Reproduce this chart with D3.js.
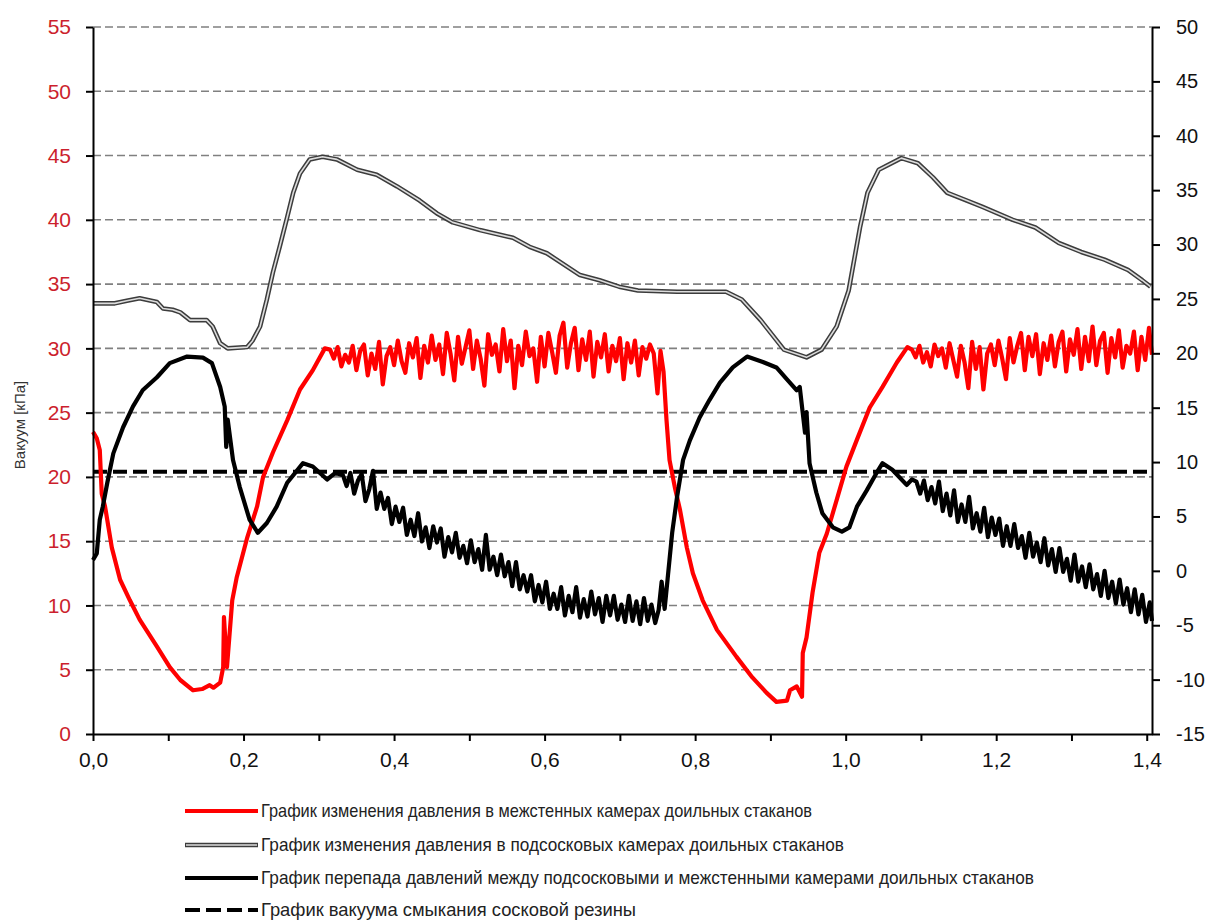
<!DOCTYPE html>
<html><head><meta charset="utf-8">
<script src="https://cdn.jsdelivr.net/npm/d3@7"></script>
<style>html,body{margin:0;padding:0;background:#fff;}svg{display:block;}</style>
</head><body>
<script>
// ---------- DATA ----------
const leftTicks = [0,5,10,15,20,25,30,35,40,45,50,55];
const gridTicks = [5,10,15,20,25,30,35,40,45,50,55];
const rightTicks = [-15,-10,-5,0,5,10,15,20,25,30,35,40,45,50];
const xTicks = [0,0.1,0.2,0.3,0.4,0.5,0.6,0.7,0.8,0.9,1.0,1.1,1.2,1.3,1.4];
const xTickLabels = ["0,0","","0,2","","0,4","","0,6","","0,8","","1,0","","1,2","","1,4"];

// red: pressure in inter-wall chambers (left axis, kPa)
const redSeries = [
 [0,23.5],[0.005,23.0],[0.009,22.1],[0.0116,18.7],[0.016,17.7],[0.025,14.5],[0.036,12.0],[0.049,10.4],[0.062,8.9],
 [0.085,6.8],[0.102,5.2],[0.116,4.2],[0.133,3.4],[0.145,3.5],[0.155,3.8],[0.160,3.6],[0.169,4.0],[0.173,5.2],[0.174,9.1],
 [0.178,5.2],[0.185,10.4],[0.191,12.2],[0.205,15.3],[0.218,17.7],[0.226,20.0],[0.239,21.9],[0.258,24.4],[0.275,26.8],
 [0.292,28.3],[0.308,30.0],
 [0.315,29.9],[0.320,29.2],[0.325,30.1],[0.330,28.6],[0.335,29.5],[0.340,28.9],[0.345,30.2],[0.350,28.3],[0.355,29.8],[0.360,30.3],
 [0.365,27.9],[0.370,29.6],[0.375,28.4],[0.380,30.5],[0.385,27.2],[0.390,29.4],[0.395,30.1],[0.400,28.7],[0.405,30.6],[0.410,29.0],
 [0.415,28.1],[0.420,30.4],[0.425,29.3],[0.430,30.8],[0.435,27.7],[0.440,30.2],[0.445,28.9],[0.450,31.0],[0.455,29.1],[0.460,30.3],
 [0.465,28.0],[0.470,31.2],[0.475,29.6],[0.480,27.5],[0.485,30.9],[0.490,28.8],[0.495,30.1],[0.500,31.4],[0.505,28.4],[0.510,30.6],
 [0.515,29.2],[0.520,27.1],[0.525,31.1],[0.530,29.5],[0.535,30.3],[0.540,28.2],[0.545,31.5],[0.550,29.0],[0.555,30.6],[0.560,26.9],
 [0.565,30.2],[0.570,28.7],[0.575,31.3],[0.580,29.4],[0.585,30.0],[0.590,27.4],[0.595,30.9],[0.600,28.6],[0.605,31.2],[0.610,29.7],
 [0.615,28.1],[0.620,31.0],[0.625,32.0],[0.630,28.5],[0.635,30.4],[0.640,31.6],[0.645,28.3],[0.650,30.7],[0.655,29.1],[0.660,31.3],
 [0.665,27.8],[0.670,30.5],[0.675,29.3],[0.680,31.1],[0.685,28.2],[0.690,30.2],[0.695,29.0],[0.700,30.8],[0.705,27.6],[0.710,30.4],
 [0.715,28.9],[0.720,30.6],[0.725,27.9],[0.730,30.1],[0.735,29.2],[0.740,30.3],[0.745,29.6],
 [0.750,26.5],[0.754,29.8],[0.758,28.2],[0.762,24.4],[0.766,21.3],[0.773,19.2],[0.780,17.4],[0.789,14.5],[0.797,12.5],[0.810,10.4],
 [0.829,8.1],[0.855,6.0],[0.876,4.4],[0.895,3.2],[0.908,2.5],[0.922,2.6],[0.926,3.4],[0.935,3.7],[0.942,2.9],[0.943,6.3],
 [0.948,7.5],[0.956,11.0],[0.965,14.1],[0.975,15.6],[0.988,18.2],[1.001,20.8],[1.015,22.9],[1.032,25.4],[1.049,27.0],
 [1.068,28.9],[1.082,30.1],
 [1.088,29.9],[1.093,29.3],[1.098,30.2],[1.103,28.9],[1.108,29.7],[1.113,28.6],[1.118,30.3],[1.123,29.4],[1.128,30.0],[1.133,28.5],
 [1.138,30.4],[1.143,29.1],[1.148,27.8],[1.153,30.2],[1.158,28.9],[1.163,26.9],[1.168,30.5],[1.173,28.4],[1.178,30.1],[1.183,26.8],
 [1.188,29.6],[1.193,30.3],[1.198,28.7],[1.203,30.6],[1.208,29.2],[1.213,27.6],[1.218,30.8],[1.223,28.9],[1.228,30.2],[1.233,31.2],
 [1.238,28.3],[1.243,30.9],[1.248,29.4],[1.253,31.1],[1.258,28.0],[1.263,30.4],[1.268,29.1],[1.273,31.0],[1.278,28.6],[1.283,30.5],
 [1.288,31.3],[1.293,28.2],[1.298,30.7],[1.303,29.5],[1.308,31.5],[1.313,28.4],[1.318,30.9],[1.323,29.0],[1.328,31.7],[1.333,28.7],
 [1.338,30.6],[1.343,31.2],[1.348,28.1],[1.353,30.8],[1.358,29.3],[1.363,31.4],[1.368,28.5],[1.373,30.2],[1.378,29.6],[1.383,31.3],
 [1.388,28.3],[1.393,30.9],[1.398,29.1],[1.403,31.6],[1.407,29.5]
];

// gray: pressure in sub-teat chambers (left axis, kPa)
const graySeries = [
 [0,33.5],[0.029,33.5],[0.045,33.7],[0.062,33.9],[0.085,33.6],[0.093,33.1],[0.106,33.0],[0.116,32.8],[0.129,32.2],
 [0.151,32.2],[0.159,31.7],[0.169,30.4],[0.179,30.0],[0.205,30.1],[0.212,30.6],[0.222,31.7],[0.231,33.8],[0.239,35.9],
 [0.248,37.9],[0.258,40.2],[0.266,42.1],[0.275,43.6],[0.288,44.7],[0.305,44.9],[0.324,44.7],[0.351,43.9],[0.377,43.5],
 [0.404,42.6],[0.434,41.5],[0.457,40.5],[0.478,39.8],[0.514,39.2],[0.558,38.6],[0.580,37.9],[0.603,37.4],[0.647,35.7],
 [0.673,35.3],[0.699,34.8],[0.724,34.5],[0.776,34.4],[0.821,34.4],[0.841,34.4],[0.862,33.8],[0.887,32.2],[0.918,29.9],
 [0.948,29.3],[0.968,29.9],[0.988,31.7],[1.004,34.5],[1.019,39.4],[1.029,42.1],[1.044,43.9],[1.074,44.8],[1.096,44.4],
 [1.116,43.3],[1.135,42.1],[1.161,41.5],[1.182,41.0],[1.222,40.0],[1.252,39.4],[1.283,38.2],[1.313,37.5],[1.344,36.9],
 [1.375,36.1],[1.394,35.3],[1.405,34.8]
];

// black: pressure difference (right axis, kPa)
const blackSeries = [
 [0,1.0],[0.005,1.6],[0.009,4.7],[0.013,5.9],[0.019,8.1],[0.027,10.8],[0.040,13.2],[0.053,15.1],[0.066,16.6],
 [0.085,17.8],[0.102,19.1],[0.125,19.7],[0.146,19.6],[0.158,19.1],[0.169,16.9],[0.175,15.1],[0.177,11.4],[0.179,13.9],
 [0.186,10.2],[0.195,7.7],[0.208,4.7],[0.219,3.5],[0.231,4.4],[0.244,5.9],[0.258,8.1],[0.279,9.9],[0.292,9.6],
 [0.311,8.4],[0.322,9.0],
 [0.332,8.8],[0.337,7.8],[0.342,9.0],[0.347,7.1],[0.352,8.3],[0.357,8.9],[0.362,6.4],[0.367,7.5],[0.372,9.2],[0.377,5.7],
 [0.382,7.2],[0.387,5.7],[0.392,6.7],[0.397,4.3],[0.402,5.9],[0.407,4.5],[0.412,5.8],[0.417,3.3],[0.422,4.7],[0.427,3.2],
 [0.432,5.3],[0.437,2.7],[0.442,4.0],[0.447,2.1],[0.452,4.1],[0.457,2.6],[0.462,3.9],[0.467,1.3],[0.472,3.1],[0.477,1.7],
 [0.482,3.5],[0.487,1.2],[0.492,2.3],[0.497,0.7],[0.502,2.8],[0.507,0.8],[0.512,2.0],[0.517,0.1],[0.522,3.3],[0.527,0.1],
 [0.532,1.3],[0.537,-0.4],[0.542,1.5],[0.547,-0.5],[0.552,0.8],[0.557,-1.4],[0.562,0.8],[0.567,-1.7],[0.572,-0.4],[0.577,-1.9],
 [0.582,-0.4],[0.587,-2.8],[0.592,-1.3],[0.597,-2.9],[0.602,-1.0],[0.607,-3.5],[0.612,-2.1],[0.617,-3.5],[0.622,-1.5],[0.627,-4.1],
 [0.632,-2.3],[0.637,-3.8],[0.642,-1.5],[0.647,-4.3],[0.652,-2.6],[0.657,-4.2],[0.662,-1.9],[0.667,-4.0],[0.672,-2.5],[0.677,-4.7],
 [0.682,-2.3],[0.687,-4.1],[0.692,-2.3],[0.697,-4.5],[0.702,-3.1],[0.707,-4.7],[0.712,-2.3],[0.717,-4.6],[0.722,-2.8],[0.727,-4.9],
 [0.732,-2.5],[0.737,-4.6],[0.742,-3.1],[0.747,-4.8],
 [0.7515,-3.6],[0.7555,-1.0],[0.7595,-3.5],[0.7635,-0.7],[0.7695,3.5],[0.776,6.8],[0.784,10.2],[0.793,12.0],[0.806,14.1],
 [0.819,15.7],[0.833,17.3],[0.850,18.7],[0.869,19.7],[0.890,19.2],[0.908,18.7],[0.922,17.6],[0.935,16.6],[0.939,16.9],
 [0.943,14.5],[0.946,12.7],[0.948,14.6],[0.952,9.9],[0.961,7.2],[0.969,5.3],[0.983,4.0],[0.995,3.6],[1.005,4.0],
 [1.015,5.9],[1.028,7.4],[1.041,9.0],[1.049,9.9],[1.062,9.3],[1.081,7.9],[1.088,8.4],
 [1.094,8.2],[1.099,7.1],[1.104,8.3],[1.109,6.5],[1.114,7.7],[1.119,6.2],[1.124,8.2],[1.129,5.5],[1.134,7.1],[1.139,5.1],
 [1.144,7.4],[1.149,4.5],[1.154,6.1],[1.159,4.5],[1.164,6.8],[1.169,3.9],[1.174,5.3],[1.179,3.6],[1.184,5.8],[1.189,3.1],
 [1.194,4.9],[1.199,3.3],[1.204,4.8],[1.209,2.3],[1.214,4.1],[1.219,2.3],[1.224,4.3],[1.229,2.1],[1.234,3.2],[1.239,1.2],
 [1.244,3.5],[1.249,1.3],[1.254,2.6],[1.259,0.8],[1.264,3.0],[1.269,0.5],[1.274,2.0],[1.279,-0.1],[1.284,2.1],[1.289,-0.1],
 [1.294,1.1],[1.299,-0.9],[1.304,1.5],[1.309,-1.0],[1.314,0.4],[1.319,-1.5],[1.324,0.6],[1.329,-1.7],[1.334,-0.3],[1.339,-2.3],
 [1.344,0.0],[1.349,-2.5],[1.354,-1.0],[1.359,-3.0],[1.364,-0.8],[1.369,-3.1],[1.374,-1.6],[1.379,-3.8],[1.384,-1.7],[1.389,-4.0],
 [1.394,-2.2],[1.399,-4.7],[1.404,-2.9],[1.407,-4.6]
];

// dashed: closing vacuum of teat rubber (right axis)
const closingLevel = 9.1;
const xDomain = [0, 1.407];

const yTitle = "Вакуум [кПа]";
const legendLabels = [
 "График изменения давления в межстенных камерах доильных стаканов",
 "График изменения давления в подсосковых камерах доильных стаканов",
 "График перепада давлений между подсосковыми и межстенными камерами доильных стаканов",
 "График вакуума смыкания сосковой резины"
];

// ---------- DRAW ----------
const W = 1210, H = 921;
const L = 93, R = 1152, T = 27, B = 734;
const svg = d3.select("body").append("svg").attr("width", W).attr("height", H);
const font = "'Liberation Sans', Arial, sans-serif";

const x = d3.scaleLinear().domain(xDomain).range([L, R]);
const yL = d3.scaleLinear().domain([0, 55]).range([B, T]);
const yR = d3.scaleLinear().domain([-15, 50]).range([B, T]);

// grid
svg.append("g").selectAll("line").data(gridTicks).join("line")
  .attr("x1", L).attr("x2", R).attr("y1", d => yL(d)).attr("y2", d => yL(d))
  .attr("stroke", "#808080").attr("stroke-width", 1.6).attr("stroke-dasharray", "8,4");

// lines
const lineL = d3.line().x(d => x(d[0])).y(d => yL(d[1]));
const lineR = d3.line().x(d => x(d[0])).y(d => yR(d[1]));

svg.append("path").attr("d", lineL(graySeries)).attr("fill", "none")
  .attr("stroke", "#3c3c3c").attr("stroke-width", 4.6).attr("stroke-linejoin", "round");
svg.append("path").attr("d", lineL(graySeries)).attr("fill", "none")
  .attr("stroke", "#dcdcdc").attr("stroke-width", 1.6).attr("stroke-linejoin", "round");

svg.append("path").attr("d", lineR([[xDomain[0], closingLevel], [xDomain[1], closingLevel]]))
  .attr("fill", "none").attr("stroke", "#000").attr("stroke-width", 4).attr("stroke-dasharray", "14,6");

svg.append("path").attr("d", lineL(redSeries)).attr("fill", "none")
  .attr("stroke", "#ff0000").attr("stroke-width", 4.2).attr("stroke-linejoin", "round");
svg.append("path").attr("d", lineR(blackSeries)).attr("fill", "none")
  .attr("stroke", "#000").attr("stroke-width", 4.2).attr("stroke-linejoin", "round");

// axes
function styleAxis(g, color, size) {
  g.select(".domain").attr("stroke", "#000").attr("stroke-width", 2);
  g.selectAll(".tick line").attr("stroke", "#000").attr("stroke-width", 2);
  g.selectAll(".tick text").attr("fill", color).attr("font-family", font).attr("font-size", size);
}
const gL = svg.append("g").attr("transform", `translate(${L},0)`)
  .call(d3.axisLeft(yL).tickValues(leftTicks).tickSize(7).tickSizeOuter(0).tickPadding(15));
styleAxis(gL, "#cc1f2d", 21);
const gR = svg.append("g").attr("transform", `translate(${R},0)`)
  .call(d3.axisRight(yR).tickValues(rightTicks).tickSize(8).tickSizeOuter(0).tickPadding(16)
    .tickFormat(d => String(d)));
styleAxis(gR, "#111", 20);
const gX = svg.append("g").attr("transform", `translate(0,${B})`)
  .call(d3.axisBottom(x).tickValues(xTicks).tickSize(7).tickSizeOuter(0).tickPadding(11)
    .tickFormat((d, i) => xTickLabels[i]));
styleAxis(gX, "#111", 21);

// y title
svg.append("text").attr("transform", "translate(25,425) rotate(-90)")
  .attr("text-anchor", "middle").attr("font-family", font).attr("font-size", 15).attr("fill", "#333")
  .text(yTitle);

// legend
const legY = [811, 845, 878, 910];
const legW = [551, 583, 773, 375];
legendLabels.forEach((lab, i) => {
  const g = svg.append("g");
  const y = legY[i];
  if (i === 0) g.append("line").attr("x1",185).attr("x2",258).attr("y1",y).attr("y2",y).attr("stroke","#ff0000").attr("stroke-width",4);
  if (i === 1) {
    g.append("line").attr("x1",185).attr("x2",258).attr("y1",y).attr("y2",y).attr("stroke","#3c3c3c").attr("stroke-width",4.6);
    g.append("line").attr("x1",186).attr("x2",257).attr("y1",y).attr("y2",y).attr("stroke","#dcdcdc").attr("stroke-width",1.6);
  }
  if (i === 2) g.append("line").attr("x1",185).attr("x2",258).attr("y1",y).attr("y2",y).attr("stroke","#000").attr("stroke-width",4);
  if (i === 3) g.append("line").attr("x1",185).attr("x2",258).attr("y1",y).attr("y2",y).attr("stroke","#000").attr("stroke-width",4).attr("stroke-dasharray","15,6");
  g.append("text").attr("x", 261).attr("y", y + 6).attr("font-family", font).attr("font-size", 19)
    .attr("fill", "#222").attr("textLength", legW[i]).attr("lengthAdjust", "spacingAndGlyphs").text(lab);
});
</script>
</body></html>
